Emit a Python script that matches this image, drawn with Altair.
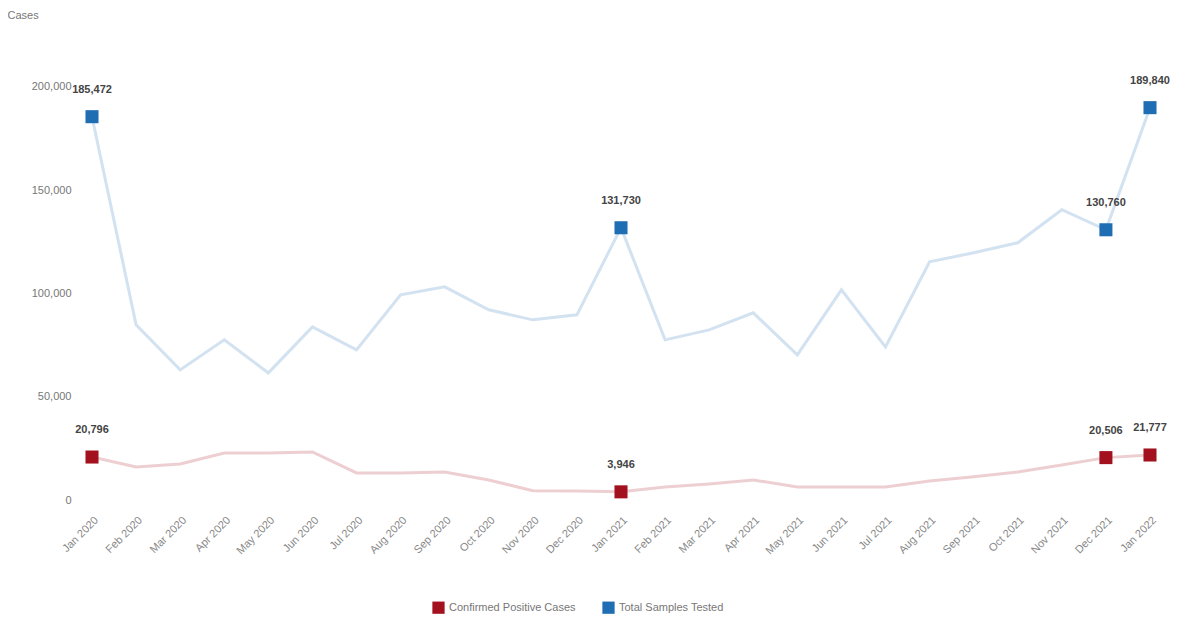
import altair as alt
import pandas as pd

# x categories (25 periods)
periods = [
    "Jan 2020", "Feb 2020", "Mar 2020", "Apr 2020", "May 2020", "Jun 2020",
    "Jul 2020", "Aug 2020", "Sep 2020", "Oct 2020", "Nov 2020", "Dec 2020",
    "Jan 2021", "Feb 2021", "Mar 2021", "Apr 2021", "May 2021", "Jun 2021",
    "Jul 2021", "Aug 2021", "Sep 2021", "Oct 2021", "Nov 2021", "Dec 2021",
    "Jan 2022",
]

red_name = "Confirmed Positive Cases"
blue_name = "Total Samples Tested"

red_values = [
    20796, 15980, 17430, 22760, 22760, 23250, 13080, 13080, 13560, 9690,
    4500, 4300, 3946, 6300, 7800, 9700, 6300, 6300, 6300, 9200,
    11200, 13600, 16900, 20506, 21777,
]

blue_values = [
    185472, 84750, 62960, 77490, 61500, 83780, 72640, 99280, 103150, 92020,
    87170, 89600, 131730, 77490, 82330, 90560, 70220, 101700, 74100, 115260,
    119620, 124460, 140450, 130760, 189840,
]

y_ticks = [0, 50000, 100000, 150000, 200000]

# indices that carry a marker and a value label
highlight_idx = [0, 12, 23, 24]

rows = []
for i, p in enumerate(periods):
    for name, vals in ((red_name, red_values), (blue_name, blue_values)):
        rows.append({
            "period": p,
            "series": name,
            "value": vals[i],
            "hl": i in highlight_idx,
            "lbl": f"{vals[i]:,}",
        })
df = pd.DataFrame(rows)

color_scale = alt.Scale(domain=[red_name, blue_name], range=["#a3111f", "#1f6db3"])
legend = alt.Legend(
    orient="none", legendX=353, legendY=566, direction="horizontal",
    title=None, symbolType="square", symbolSize=150, symbolOpacity=1,
    labelFontSize=11, labelColor="#777", symbolStrokeWidth=0, columnPadding=26,
)

x_enc = alt.X(
    "period:N", sort=periods,
    scale=alt.Scale(type="point", padding=0.295),
    axis=alt.Axis(
        title=None, labelAngle=-45, domain=False, ticks=False, grid=False,
        labelPadding=14, labelColor="#888", labelFontSize=11,
    ),
)
y_enc = alt.Y(
    "value:Q",
    scale=alt.Scale(domain=[0, 225000], nice=False),
    axis=alt.Axis(
        title="Cases", titleAngle=0, titleAlign="left", titleBaseline="middle",
        titleX=-72, titleY=-20, titleFontSize=11, titleFontWeight="normal",
        titleColor="#777", values=y_ticks,
        format=",.0f", domain=False, ticks=False, grid=False,
        labelColor="#777", labelFontSize=11, labelPadding=8,
    ),
)
color_enc = alt.Color("series:N", scale=color_scale, legend=legend, sort=[red_name, blue_name])

base = alt.Chart(df)

lines = base.mark_line(strokeWidth=3, opacity=0.2).encode(
    x=x_enc, y=y_enc, color=color_enc, detail="series:N"
)

points = base.transform_filter("datum.hl").mark_point(
    shape="square", filled=True, size=170, opacity=1
).encode(x=x_enc, y=y_enc, color=color_enc)

labels = base.transform_filter("datum.hl").mark_text(
    dy=-27, fontSize=11, color="#444", fontWeight="bold"
).encode(x=x_enc, y=y_enc, text="lbl:N")

chart = alt.layer(lines, points, labels).properties(
    width=1084, height=465,
    background="white",
    autosize=alt.AutoSizeParams(type="none"),
    padding={"left": 71, "top": 27, "right": 20, "bottom": 120},
).configure_view(strokeWidth=0, stroke="transparent")

chart.save("out.html", embed_options={"renderer": "svg", "actions": False})
